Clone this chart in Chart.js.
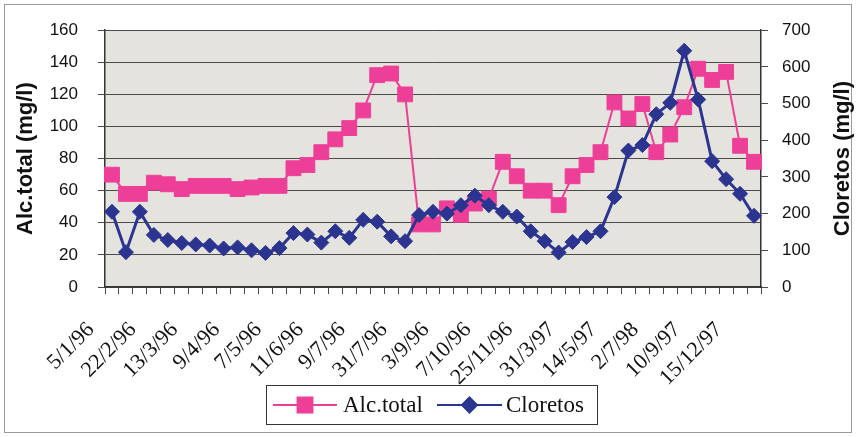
<!DOCTYPE html>
<html>
<head>
<meta charset="utf-8">
<script src="https://cdn.jsdelivr.net/npm/chart.js@4/dist/chart.umd.min.js"></script>
<style>
  html, body { margin: 0; padding: 0; background: #ffffff; }
  #wrap { position: relative; width: 856px; height: 437px; }
  canvas { display: block; }
</style>
</head>
<body>
<div id="wrap"><canvas id="c" width="856" height="437"></canvas></div>
<script>
// Sampling dates (only every third sample carries a printed label)
const categories = [
  '5/1/96', '', '', '22/2/96', '', '', '13/3/96', '', '', '9/4/96', '', '',
  '7/5/96', '', '', '11/6/96', '', '', '9/7/96', '', '', '31/7/96', '', '',
  '3/9/96', '', '', '7/10/96', '', '', '25/11/96', '', '', '31/3/97', '', '',
  '14/5/97', '', '', '2/7/98', '', '', '10/9/97', '', '', '15/12/97', ''
];

// Total alkalinity (mg/l), left axis
const alcTotal = [
  70, 58, 58, 65, 64, 61, 63, 63, 63, 61,
  62, 63, 63, 74, 76, 84, 92, 99, 110, 132,
  133, 120, 39, 39, 49, 45, 52, 55, 78, 69,
  60, 60, 51, 69, 76, 84, 115, 105, 114, 84,
  95, 112, 136, 129, 134, 88, 78
];

// Chlorides (mg/l), right axis
const cloretos = [
  205, 95, 205, 142, 128, 120, 116, 113, 105, 108,
  100, 93, 106, 147, 143, 121, 152, 134, 183, 178,
  138, 125, 196, 205, 200, 223, 249, 223, 205, 192,
  152, 125, 94, 123, 136, 152, 245, 372, 387, 471,
  502, 644, 511, 343, 294, 254, 194
];

// Axis ranges and titles
const leftTicks = { min: 0, max: 160, step: 20 };
const rightTicks = { min: 0, max: 700, step: 100 };
const leftTitle = 'Alc.total (mg/l)';
const rightTitle = 'Cloretos (mg/l)';
const seriesNames = ['Alc.total', 'Cloretos'];

const PINK = '#ee3f98';
const NAVY = '#2b3590';
const GRID = '#4a4a4a';
const SANS = "'Liberation Sans', Arial, sans-serif";
const SERIF = "'Liberation Serif', 'Times New Roman', serif";

// Grey plot area, outer frame, right-hand title and the boxed legend
const decorations = {
  id: 'decorations',
  beforeDraw(chart) {
    const { ctx, chartArea: a } = chart;
    ctx.save();
    ctx.fillStyle = '#e5e3dd';
    ctx.fillRect(a.left, a.top, a.right - a.left, a.bottom - a.top);
    ctx.strokeStyle = '#9a9a9a';
    ctx.lineWidth = 1;
    ctx.strokeRect(4.5, 4.5, 847, 428);
    ctx.restore();
  },
  afterDraw(chart) {
    const { ctx, chartArea: a } = chart;
    ctx.save();
    // right axis title, reading bottom to top
    ctx.translate(843, (a.top + a.bottom) / 2);
    ctx.rotate(-Math.PI / 2);
    ctx.font = 'bold 22px ' + SANS;
    ctx.fillStyle = '#111';
    ctx.textAlign = 'center';
    ctx.textBaseline = 'middle';
    ctx.fillText(rightTitle, 0, 0);
    ctx.restore();

    // legend
    ctx.save();
    ctx.strokeStyle = '#333';
    ctx.lineWidth = 1;
    ctx.strokeRect(266.5, 385.5, 331, 39);
    const items = [
      { ds: chart.data.datasets[0], x0: 273, x1: 337, tx: 343 },
      { ds: chart.data.datasets[1], x0: 437, x1: 502, tx: 506 }
    ];
    const y = 405;
    items.forEach(it => {
      ctx.strokeStyle = it.ds.borderColor;
      ctx.lineWidth = 2;
      ctx.beginPath();
      ctx.moveTo(it.x0, y);
      ctx.lineTo(it.x1, y);
      ctx.stroke();
      ctx.fillStyle = it.ds.pointBackgroundColor;
      ctx.strokeStyle = it.ds.pointBorderColor;
      Chart.helpers.drawPoint(ctx, {
        pointStyle: it.ds.pointStyle,
        radius: it.ds.pointRadius,
        rotation: 0,
        borderWidth: 1
      }, (it.x0 + it.x1) / 2, y);
      ctx.fillStyle = '#111';
      ctx.font = '23px ' + SERIF;
      ctx.textAlign = 'left';
      ctx.textBaseline = 'middle';
      ctx.fillText(it.ds.label, it.tx, y + 1);
    });
    ctx.restore();
  }
};

function fixWidth(w) { return scale => { scale.width = w; }; }

new Chart(document.getElementById('c'), {
  type: 'line',
  data: {
    labels: categories,
    datasets: [
      {
        label: seriesNames[0],
        data: alcTotal,
        yAxisID: 'y',
        order: 1,
        borderColor: PINK,
        borderWidth: 2,
        pointStyle: 'rect',
        pointRadius: 10.5,
        pointBackgroundColor: PINK,
        pointBorderColor: PINK,
        pointBorderWidth: 1,
        tension: 0
      },
      {
        label: seriesNames[1],
        data: cloretos,
        yAxisID: 'y1',
        order: 0,
        borderColor: NAVY,
        borderWidth: 3,
        pointStyle: 'rectRot',
        pointRadius: 7.5,
        pointBackgroundColor: NAVY,
        pointBorderColor: NAVY,
        pointBorderWidth: 1,
        tension: 0
      }
    ]
  },
  options: {
    responsive: false,
    devicePixelRatio: 1,
    animation: false,
    layout: { padding: { top: 24, left: 0, right: 0, bottom: 0 } },
    plugins: { legend: { display: false }, tooltip: { enabled: false } },
    scales: {
      x: {
        type: 'category',
        offset: true,
        afterFit: scale => { scale.height = 150; },
        grid: {
          offset: true,
          drawOnChartArea: false,
          drawTicks: true,
          tickLength: 7,
          tickColor: GRID,
          tickWidth: 1
        },
        border: { color: '#333', width: 1.5 },
        ticks: {
          autoSkip: false,
          minRotation: 45,
          maxRotation: 45,
          labelOffset: -21,
          padding: 23,
          color: '#111',
          font: { family: SERIF, size: 22 }
        }
      },
      y: {
        position: 'left',
        min: leftTicks.min,
        max: leftTicks.max,
        afterFit: fixWidth(105),
        grid: {
          color: GRID,
          lineWidth: 1,
          drawTicks: true,
          tickLength: 7,
          tickColor: GRID
        },
        border: { color: '#333', width: 1.5 },
        ticks: {
          stepSize: leftTicks.step,
          padding: 20,
          color: '#111',
          font: { family: SANS, size: 17 }
        },
        title: {
          display: true,
          text: leftTitle,
          color: '#111',
          padding: { top: 13, bottom: 0 },
          font: { family: SANS, size: 22, weight: 'bold' }
        }
      },
      y1: {
        position: 'right',
        min: rightTicks.min,
        max: rightTicks.max,
        afterFit: fixWidth(95),
        grid: {
          drawOnChartArea: false,
          drawTicks: true,
          tickLength: 7,
          tickColor: GRID
        },
        border: { color: '#333', width: 1.5 },
        ticks: {
          stepSize: rightTicks.step,
          padding: 14,
          color: '#111',
          font: { family: SANS, size: 17 }
        }
      }
    }
  },
  plugins: [decorations]
});
</script>
</body>
</html>
